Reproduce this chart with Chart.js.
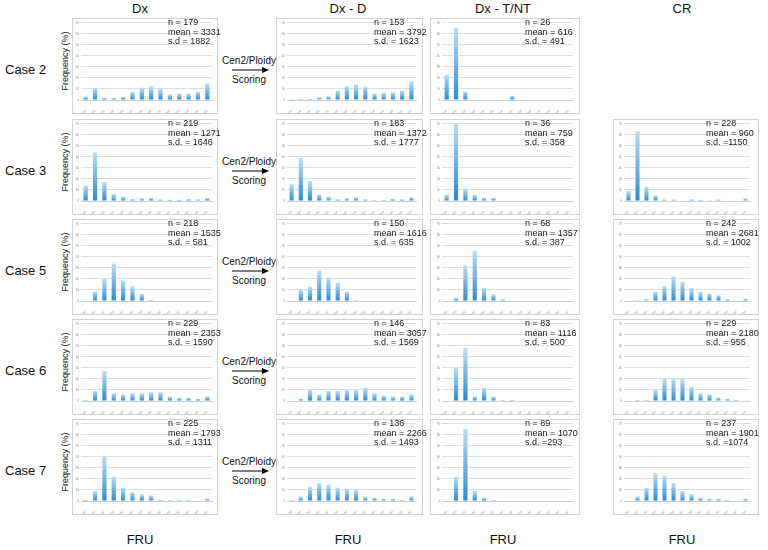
<!DOCTYPE html>
<html><head><meta charset="utf-8">
<script src="https://cdn.jsdelivr.net/npm/chart.js@4.4.1/dist/chart.umd.min.js"></script>
<style>
body{margin:0;width:768px;height:550px;background:#fff;position:relative;font-family:"Liberation Sans",Arial,Helvetica,sans-serif;overflow:hidden}
.t{position:absolute;white-space:nowrap;color:#111}
.box{position:absolute;border:1px solid #d2d2d2;box-sizing:border-box;background:#fff}
canvas{position:absolute}
.stat{position:absolute;font-size:9px;line-height:9.5px;color:#222;white-space:nowrap}
</style></head><body>
<script>
// ---- categories / tick labels ----
const fruBins = ["<500","500-1000","1000-1500","1500-2000","2000-2500","2500-3000","3000-3500","3500-4000","4000-4500","4500-5000","5000-5500","5500-6000","6000-6500",">6500"];
const yTicks = [0,10,20,30,40,50,60,70];
const columnTitles = ["Dx","Dx - D","Dx - T/NT","CR"];
const caseNames = ["Case 2","Case 3","Case 5","Case 6","Case 7"];

// ---- series values (frequency %) ----
const case2Dx   = [3,11,2,2,3,7.5,11,12.5,10,5,6,6,7.5,15];
const case2DxD  = [0.3,1,1,2.5,3.5,8.5,12.5,14,12,6,6.5,7,8.5,17];
const case2DxT  = [23,65.4,7.7,0,0,0,0,3.8,0,0,0,0,0,0];

const case3Dx   = [14,44,17.2,6.2,3.9,1.8,2.4,2.7,1.5,1.2,1.2,1.8,1.5,2.7];
const case3DxD  = [15.3,38.7,18.2,5.8,3.8,1.6,2.6,3.2,1.6,1,1,2,1.6,3.5];
const case3DxT  = [5.6,72.2,11.1,5.6,2.8,2.8,0,0,0,0,0,0,0,0];
const case3CR   = [9,63,13,5,1.3,1.3,0,1.5,1,0.3,1.3,0.4,0,2.3];

const case5Dx   = [0,8.6,20,34,18.7,13.5,6.4,1,0,0,0,0,0,0];
const case5DxD  = [0,10.6,13.2,27.6,21.5,16.7,8.7,1,0,0,0,0,0,0];
const case5DxT  = [0,2.9,32.4,45.6,11.8,5.9,1.5,0,0,0,0,0,0,0];
const case5CR   = [0,0.3,1.7,8.4,13.5,22.2,17.5,11.8,8.4,6.7,5.4,1.7,0.7,2];

const case6Dx   = [1,9,27,7,6,7,7,8,8,4,3,3,2,4];
const case6DxD  = [0,2,10,6,9,9,10,10,12,7,5,4,4,6];
const case6DxT  = [0,30,48,4,12,4,1,1,0,0,0,0,0,0];
const case6CR   = [0,1,1,10,20,20,20,13,7,6,3,2,1,0];

const case7Dx   = [1,9,40,22,12,8,6,5,1,1,1,1,0,2];
const case7DxD  = [1,4,13,16,15,12,11,10,4,3,2,2,1,4];
const case7DxT  = [0,22,65,9,3,1,0,0,0,0,0,0,0,0];
const case7CR   = [0,4,12,25,23,16,9,6,3,2,2,1,0,2];

// ---- annotation texts ----
const stats = {
  case2Dx:["n = 179","mean = 3331","s.d = 1882"],
  case2DxD:["n = 153","mean = 3792","s.d. = 1623"],
  case2DxT:["n = 26","mean = 616","s.d. = 491"],
  case3Dx:["n = 219","mean = 1271","s.d. = 1646"],
  case3DxD:["n = 183","mean = 1372","s.d. = 1777"],
  case3DxT:["n = 36","mean = 759","s.d. = 358"],
  case3CR:["n = 228","mean = 960","s.d. =1150"],
  case5Dx:["n = 218","mean = 1535","s.d. = 581"],
  case5DxD:["n = 150","mean = 1616","s.d. = 635"],
  case5DxT:["n = 68","mean = 1357","s.d. = 387"],
  case5CR:["n = 242","mean = 2681","s.d. = 1002"],
  case6Dx:["n = 229","mean = 2353","s.d. = 1590"],
  case6DxD:["n = 146","mean = 3057","s.d. = 1569"],
  case6DxT:["n = 83","mean = 1116","s.d. = 500"],
  case6CR:["n = 229","mean = 2180","s.d. = 955"],
  case7Dx:["n = 225","mean = 1793","s.d. = 1311"],
  case7DxD:["n = 136","mean = 2266","s.d. = 1493"],
  case7DxT:["n = 89","mean = 1070","s.d. =293"],
  case7CR:["n = 237","mean = 1901","s.d. =1074"]
};

const grid = [
  [["case2Dx",case2Dx],["case2DxD",case2DxD],["case2DxT",case2DxT],null],
  [["case3Dx",case3Dx],["case3DxD",case3DxD],["case3DxT",case3DxT],["case3CR",case3CR]],
  [["case5Dx",case5Dx],["case5DxD",case5DxD],["case5DxT",case5DxT],["case5CR",case5CR]],
  [["case6Dx",case6Dx],["case6DxD",case6DxD],["case6DxT",case6DxT],["case6CR",case6CR]],
  [["case7Dx",case7Dx],["case7DxD",case7DxD],["case7DxT",case7DxT],["case7CR",case7CR]]
];

// ---- layout ----
const colX = [72,276,430,613];
const colW = [146,147,150,146];
const colPadL = [1,3,4,3];
const colPadR = [5,6,6,8];
const colStatX = [96,98,95,93];
const colTitleX = [140,348,503,682];
const rowY = [18,119,219,319,419];
const boxH = 96;

function el(tag, cls, css, txt){const e=document.createElement(tag); if(cls)e.className=cls; Object.assign(e.style,css||{}); if(txt!==undefined)e.textContent=txt; document.body.appendChild(e); return e;}

columnTitles.forEach((t,i)=>{el('div','t',{left:(colTitleX[i]-50)+'px',width:'100px',textAlign:'center',top:'1px',fontSize:'13px'},t);});
colTitleX.forEach(x=>el('div','t',{left:(x-50)+'px',width:'100px',textAlign:'center',top:'532px',fontSize:'13px'},'FRU'));

function barGrad(ctx){
  const chart=ctx.chart; const ys=chart.scales && chart.scales.y;
  if(!ys || ctx.parsed===undefined) return '#5aaee6';
  const top=ys.getPixelForValue(ctx.parsed.y), bot=ys.getPixelForValue(0);
  if(!isFinite(top)||bot-top<0.5) return '#3d9ade';
  const g=chart.ctx.createLinearGradient(0,top,0,bot);
  g.addColorStop(0,'#b9def7'); g.addColorStop(1,'#2a8ad3');
  return g;
}

grid.forEach((row,r)=>{
  const y=rowY[r];
  el('div','t',{left:'5px',top:(y+44)+'px',fontSize:'13px'},caseNames[r]);
  el('div','t',{left:(65-40)+'px',width:'80px',textAlign:'center',top:(y+38)+'px',fontSize:'9px',transform:'rotate(-90deg)'},'Frequency (%)');
  el('div','t',{left:'219px',width:'60px',textAlign:'center',top:(y+37)+'px',fontSize:'10px'},'Cen2/Ploidy');
  el('div','t',{left:'219px',width:'60px',textAlign:'center',top:(y+56)+'px',fontSize:'10px'},'Scoring');
  const svg=document.createElementNS('http://www.w3.org/2000/svg','svg');
  svg.setAttribute('width','40');svg.setAttribute('height','10');
  Object.assign(svg.style,{position:'absolute',left:'230px',top:(y+47)+'px'});
  svg.innerHTML='<line x1="2" y1="5" x2="33" y2="5" stroke="#000" stroke-width="1"/><polygon points="32,2 39,5 32,8" fill="#000"/>';
  document.body.appendChild(svg);

  row.forEach((p,c)=>{
    if(!p) return;
    const [name,vals]=p;
    const x=colX[c], w=colW[c];
    el('div','box',{left:x+'px',top:y+'px',width:w+'px',height:boxH+'px'});
    const cv=el('canvas',null,{left:(x+1)+'px',top:(y+1)+'px'});
    cv.width=w-2; cv.height=boxH-2;
    new Chart(cv,{
      type:'bar',
      data:{labels:fruBins,datasets:[{data:vals,backgroundColor:barGrad,borderWidth:0,barPercentage:0.45,categoryPercentage:1}]},
      options:{responsive:false,animation:false,devicePixelRatio:1,
        layout:{padding:{left:colPadL[c],right:colPadR[c],top:2,bottom:0}},
        plugins:{legend:{display:false},tooltip:{enabled:false}},
        scales:{
          x:{grid:{display:false},border:{display:true,color:'#cfcfcf'},
             ticks:{font:{size:3},color:'#888',maxRotation:45,minRotation:45,autoSkip:false,padding:1},
             afterFit(s){s.height=13;}},
          y:{min:0,max:yTicks[yTicks.length-1],
             afterBuildTicks(s){s.ticks=yTicks.map(v=>({value:v}));},
             ticks:{font:{size:3},color:'#888',padding:2},
             grid:{color:'#dedede',drawTicks:false},border:{display:false},
             afterFit(s){s.width=7;}}
        }}
    });
    const st=el('div','stat',{left:(x+colStatX[c])+'px',top:(y+0)+'px'});
    st.innerHTML=stats[name].join('<br>');
  });
});
</script>
</body></html>
